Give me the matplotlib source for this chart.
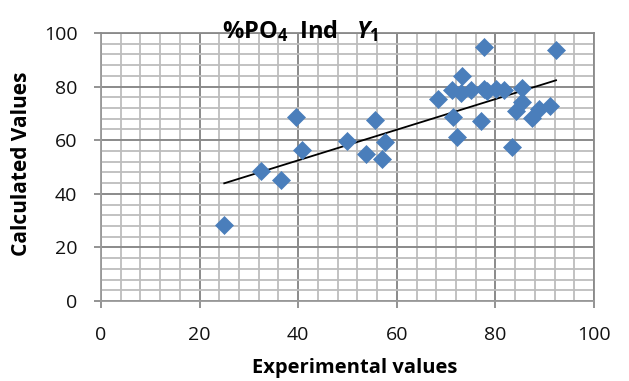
import numpy as np
import matplotlib
matplotlib.use("Agg")
import matplotlib.pyplot as plt
from matplotlib.ticker import MultipleLocator

plt.rcParams['font.family'] = ['Open Sans', 'DejaVu Sans']
plt.rcParams['mathtext.fontset'] = 'custom'
plt.rcParams['mathtext.rm'] = 'Open Sans'
plt.rcParams['mathtext.bf'] = 'Open Sans:bold'
plt.rcParams['mathtext.it'] = 'Open Sans:italic'
plt.rcParams['mathtext.bfit'] = 'Open Sans:bold:italic'

experimental = [25.0, 32.5, 36.5, 39.6, 40.8, 49.9, 53.7, 55.5, 56.9, 57.6,
                68.4, 71.2, 71.5, 72.3, 73.2, 73.1, 75.0, 77.0, 77.6, 77.7,
                78.2, 80.2, 81.7, 83.4, 84.2, 85.3, 85.4, 87.4, 88.8, 91.0, 92.3]
calculated = [28.5, 48.5, 45.3, 68.7, 56.4, 59.8, 54.7, 67.5, 52.8, 59.2,
              75.2, 78.9, 68.5, 61.2, 84.1, 77.7, 78.9, 67.1, 94.8, 79.0,
              78.4, 79.0, 78.9, 57.5, 70.8, 74.4, 79.4, 68.3, 71.6, 72.8, 93.5]

x_ticks = [0, 20, 40, 60, 80, 100]
y_ticks = [0, 20, 40, 60, 80, 100]

fig = plt.figure(figsize=(6.29, 3.81), dpi=100)
ax = fig.add_axes([101/629, 1-301/381, (594-101)/629, (301-33)/381])

x = np.array(experimental)
y = np.array(calculated)
coef = np.polyfit(x, y, 1)
xl = np.array([x.min(), x.max()])
ax.plot(xl, np.polyval(coef, xl), color='black', lw=1.3, zorder=3)
ax.plot(x, y, linestyle='none', marker='D', ms=8.8, color='#4a7ebb',
        markeredgecolor='#4a7ebb', markeredgewidth=0.5, zorder=4, clip_on=False)

ax.set_xlim(0, 100)
ax.set_ylim(0, 100)
ax.set_xticks(x_ticks)
ax.set_yticks(y_ticks)
ax.xaxis.set_minor_locator(MultipleLocator(4))
ax.yaxis.set_minor_locator(MultipleLocator(4))
ax.grid(which='major', color='#8a8a8a', lw=1.4)
ax.grid(which='minor', color='#bdbdbd', lw=1.3)
ax.set_axisbelow(True)
for s in ax.spines.values():
    s.set_color('#9a9a9a')
    s.set_linewidth(1.3)
ax.spines['top'].set_color('#8a8a8a')
ax.spines['right'].set_color('#8a8a8a')
ax.tick_params(which='major', length=5, width=1.3, color='#8a8a8a', labelsize=14,
               labelcolor='#111111')
ax.tick_params(axis='x', pad=13)
ax.tick_params(axis='y', pad=12)
ax.tick_params(which='minor', length=0)

fig.text(355/629, 1-368/381, 'Experimental values', fontsize=14.5,
         fontweight='bold', ha='center', va='center')
fig.text(22/629, 1-164/381, 'Calculated Values', fontsize=15,
         fontweight='bold', ha='center', va='center', rotation=90)

fig.text(222/629, 1-38/381, r'%PO$_\mathbf{4}$  Ind   $\mathbfit{Y}_\mathbf{1}$',
         fontsize=17, fontweight='bold', ha='left', va='baseline')

fig.savefig('out.png', dpi=100)
